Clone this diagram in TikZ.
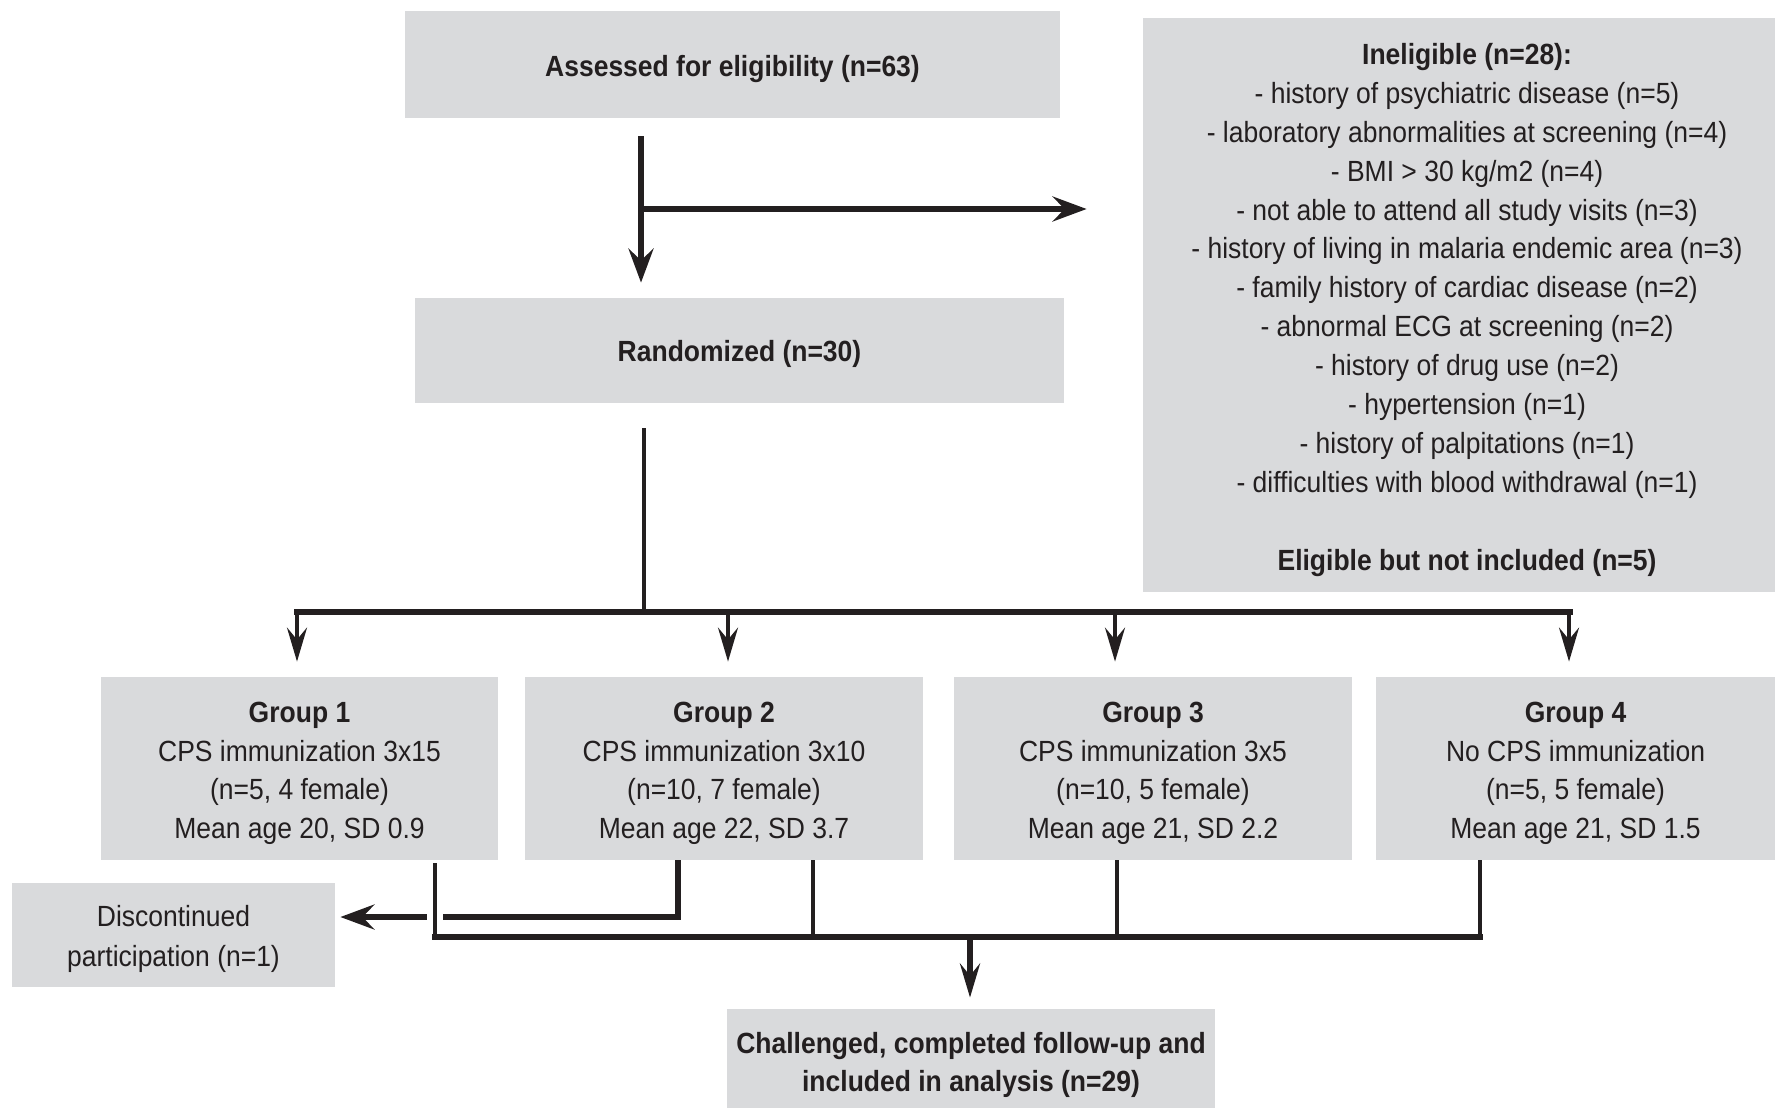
\documentclass[tikz,border=0pt]{standalone}
\usepackage{fontspec}
\setmainfont{Liberation Sans}[FakeStretch=0.907]
\usetikzlibrary{arrows.meta,calc}
\definecolor{boxgray}{RGB}{217,218,220}
\definecolor{ink}{RGB}{35,31,32}
\tikzset{
  box/.style={fill=boxgray, draw=none, inner sep=0pt},
  txt/.style={align=center, text=ink, inner sep=0pt, yshift=-2.4pt,
    font=\fontsize{14.6}{19.45}\selectfont},
  conn/.style={draw=ink, line width=2.0pt},
  thickconn/.style={draw=ink, line width=2.7pt},
  bigtip/.style={-{Stealth[length=17pt,width=12.5pt,inset=6pt]}},
  smalltip/.style={-{Stealth[length=17pt,width=10pt,inset=6pt]}},
}
\begin{document}
\begin{tikzpicture}[x=0.5pt,y=-0.5pt]
\useasboundingbox (0,0) rectangle (1775,1108);

\node[box, minimum width=327.5pt, minimum height=53.5pt,
  label={[txt]center:{\bfseries Assessed for eligibility (n=63)}}] (assess) at (732.5,64.5) {};
\node[box, minimum width=316pt, minimum height=287pt,
  label={[txt, xshift=4pt]center:{\bfseries Ineligible (n=28):\\
   - history of psychiatric disease (n=5)\\
   - laboratory abnormalities at screening (n=4)\\
   - BMI > 30 kg/m2 (n=4)\\
   - not able to attend all study visits (n=3)\\
   - history of living in malaria endemic area (n=3)\\
   - family history of cardiac disease (n=2)\\
   - abnormal ECG at screening (n=2)\\
   - history of drug use (n=2)\\
   - hypertension (n=1)\\
   - history of palpitations (n=1)\\
   - difficulties with blood withdrawal (n=1)\\[19.45pt]
   \bfseries Eligible but not included (n=5)}}] (inel) at (1459,305) {};
\node[box, minimum width=324.5pt, minimum height=52.5pt,
  label={[txt, yshift=0.6pt]center:{\bfseries Randomized (n=30)}}] (rand) at (739.5,350.5) {};

\node[box, minimum width=198.5pt, minimum height=91.5pt,
  label={[txt]center:{{\bfseries Group 1}\\CPS immunization 3x15\\(n=5, 4 female)\\Mean age 20, SD 0.9}}] (g1) at (299.5,768.5) {};
\node[box, minimum width=199pt, minimum height=91.5pt,
  label={[txt]center:{{\bfseries Group 2}\\CPS immunization 3x10\\(n=10, 7 female)\\Mean age 22, SD 3.7}}] (g2) at (724,768.5) {};
\node[box, minimum width=199pt, minimum height=91.5pt,
  label={[txt]center:{{\bfseries Group 3}\\CPS immunization 3x5\\(n=10, 5 female)\\Mean age 21, SD 2.2}}] (g3) at (1153,768.5) {};
\node[box, minimum width=199.5pt, minimum height=91.5pt,
  label={[txt]center:{{\bfseries Group 4}\\No CPS immunization\\(n=5, 5 female)\\Mean age 21, SD 1.5}}] (g4) at (1575.5,768.5) {};

\node[box, minimum width=161.5pt, minimum height=52pt,
  label={[txt, yshift=0.4pt, font=\fontsize{14.6}{20}\selectfont]center:{Discontinued\\participation (n=1)}}] (disc) at (173.5,935) {};
\node[box, minimum width=244pt, minimum height=49.5pt,
  label={[txt, yshift=-1pt, font=\fontsize{14.6}{19}\selectfont]center:{\bfseries Challenged, completed follow-up and\\\bfseries included in analysis (n=29)}}] (final) at (971,1058.5) {};

% top connectors
\coordinate (xa) at (641,0);
\coordinate (br) at (641,209);
\draw[thickconn, bigtip, shorten <=9pt, shorten >=7.5pt] (assess.south -| xa) -- (rand.north -| xa);
\draw[thickconn, bigtip, shorten >=28pt] (br) -- (br -| inel.west);

% randomized to groups
\coordinate (xr) at (644,0);
\coordinate (busL) at (297,612);
\coordinate (busR) at (1570,612);
\coordinate (x1) at (297,0);
\coordinate (x2) at (728,0);
\coordinate (x3) at (1115,0);
\coordinate (x4) at (1569,0);
\draw[conn, shorten <=12.5pt] (rand.south -| xr) -- (busL -| xr);
\draw[conn, smalltip, shorten >=7.5pt] (busL -| x1) -- (g1.north -| x1);
\draw[conn, smalltip, shorten >=7.5pt] (busL -| x2) -- (g2.north -| x2);
\draw[conn, smalltip, shorten >=7.5pt] (busL -| x3) -- (g3.north -| x3);
\draw[conn, smalltip, shorten >=7.5pt] (busL -| x4) -- (g4.north -| x4);
\draw[draw=ink, line width=3.2pt, line cap=rect] (busL) -- (busR);

% groups to outcome
\coordinate (y1) at (435,0);
\coordinate (y2a) at (678,0);
\coordinate (y2b) at (813,0);
\coordinate (y3) at (1117,0);
\coordinate (y4) at (1480,0);
\coordinate (dj) at (678,917);
\coordinate (botL) at (435,937);
\coordinate (botR) at (1480,937);
\coordinate (xf) at (970,0);
\draw[thickconn, line width=3pt, bigtip, shorten >=2.5pt] (g2.south -| y2a) -- (dj) -- (dj -| disc.east);
\draw[conn, preaction={draw=white, line width=8pt}, shorten <=1.5pt] (g1.south -| y1) -- (botL);
\draw[conn] (g2.south -| y2b) -- (botL -| y2b);
\draw[conn] (g3.south -| y3) -- (botL -| y3);
\draw[conn] (g4.south -| y4) -- (botR);
\draw[draw=ink, line width=2.8pt, line cap=rect] (botL) -- (botR);
\draw[thickconn, smalltip, shorten >=5.5pt] (botL -| xf) -- (final.north -| xf);
\end{tikzpicture}
\end{document}
